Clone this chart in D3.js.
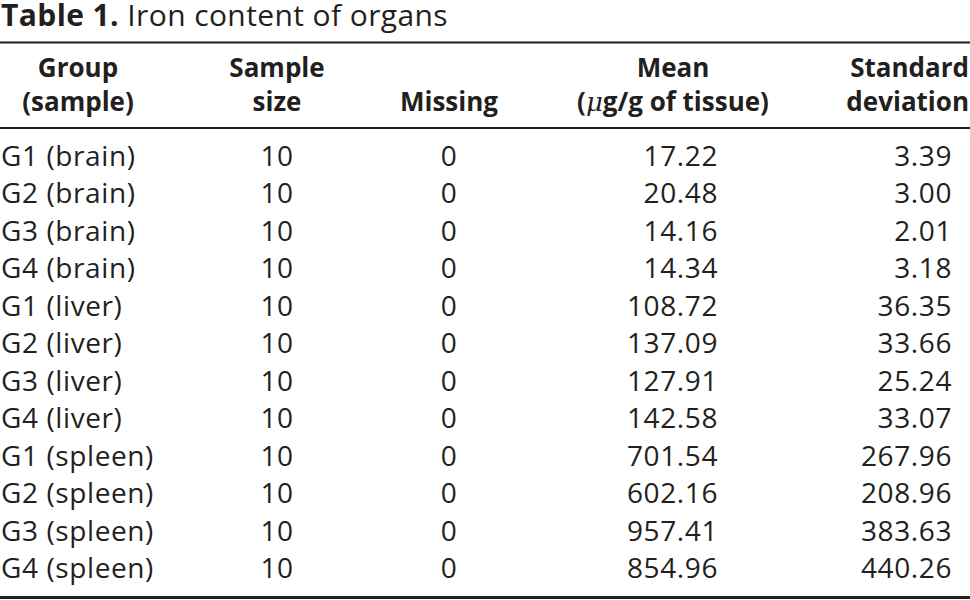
<!DOCTYPE html>
<html>
<head>
<meta charset="utf-8">
<script src="https://cdn.jsdelivr.net/npm/d3@7"></script>
<style>
  body { margin: 0; background: #fff; }
  text { font-family: "Open Sans", Lato, sans-serif; fill: #231f20; }
</style>
</head>
<body>
<svg id="chart" width="970" height="600"></svg>
<script>
// table values
var groups = ["G1 (brain)", "G2 (brain)", "G3 (brain)", "G4 (brain)",
              "G1 (liver)", "G2 (liver)", "G3 (liver)", "G4 (liver)",
              "G1 (spleen)", "G2 (spleen)", "G3 (spleen)", "G4 (spleen)"];
var sampleSize = [10, 10, 10, 10, 10, 10, 10, 10, 10, 10, 10, 10];
var missing = [0, 0, 0, 0, 0, 0, 0, 0, 0, 0, 0, 0];
var means = [17.22, 20.48, 14.16, 14.34, 108.72, 137.09, 127.91, 142.58, 701.54, 602.16, 957.41, 854.96];
var sds = [3.39, 3.00, 2.01, 3.18, 36.35, 33.66, 25.24, 33.07, 267.96, 208.96, 383.63, 440.26];

var svg = d3.select("#chart");

// title
var title = svg.append("text").attr("x", 1).attr("y", 26).style("font-size", "30px")
    .style("letter-spacing", "0.4px");
title.append("tspan").style("font-weight", "bold").text("Table 1.");
title.append("tspan").text(" Iron content of organs");

// rules
var rules = [42.5, 128, 597.5];
svg.selectAll("line.rule").data(rules).enter().append("line")
    .attr("class", "rule")
    .attr("x1", 0).attr("x2", 970)
    .attr("y1", function(d) { return d; }).attr("y2", function(d) { return d; })
    .attr("stroke", "#231f20").attr("stroke-width", function(d, i) { return i == 2 ? 3 : 2; });

// header
var headers = [
  {lines: ["Group", "(sample)"], x: 78, anchor: "middle"},
  {lines: ["Sample", "size"], x: 277, anchor: "middle"},
  {lines: ["", "Missing"], x: 449, anchor: "middle"},
  {lines: ["Mean", "(\u03bcg/g of tissue)"], x: 673, anchor: "middle"},
  {lines: ["Standard", "deviation"], x: 969, anchor: "end"}
];
headers.forEach(function(h) {
  h.lines.forEach(function(l, i) {
    if (!l) return;
    var t = svg.append("text")
        .attr("x", h.x).attr("y", 77 + i * 34)
        .attr("text-anchor", h.anchor)
        .style("font-size", "26px").style("font-weight", "bold");
    if (l.indexOf("\u03bc") >= 0) {
      t.append("tspan").text("(");
      t.append("tspan").style("font-style", "italic").style("font-family", "DejaVu Serif").style("font-weight", "normal").text("\u03bc");
      t.append("tspan").text(l.slice(2));
    } else {
      t.text(l);
    }
  });
});

// rows
var y = d3.scaleBand().domain(d3.range(groups.length)).range([147.3, 596.7]);

var rows = svg.selectAll("g.row").data(groups).enter().append("g")
    .attr("class", "row")
    .attr("transform", function(d, i) { return "translate(0," + (y(i) + y.bandwidth() / 2) + ")"; });

function cell(sel, x, anchor, fn) {
  sel.append("text").attr("x", x).attr("text-anchor", anchor)
      .style("font-size", "28px").style("letter-spacing", "0.6px")
      .text(fn);
}
cell(rows, 1, "start", function(d) { return d; });
cell(rows, 277, "middle", function(d, i) { return sampleSize[i]; });
cell(rows, 449, "middle", function(d, i) { return missing[i]; });
cell(rows, 718, "end", function(d, i) { return d3.format(".2f")(means[i]); });
cell(rows, 952, "end", function(d, i) { return d3.format(".2f")(sds[i]); });
</script>
</body>
</html>
